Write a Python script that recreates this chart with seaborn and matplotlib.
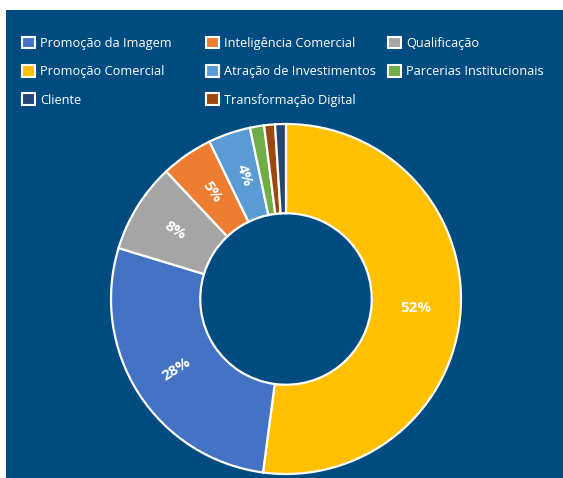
import numpy as np
import matplotlib
matplotlib.use("Agg")
import matplotlib.pyplot as plt
from matplotlib.patches import Patch, Rectangle
import seaborn as sns

# ==================== 数据 ====================
# order clockwise from the top of the donut
fatias = ["Promoção Comercial", "Promoção da Imagem", "Qualificação",
          "Inteligência Comercial", "Atração de Investimentos",
          "Parcerias Institucionais", "Transformação Digital", "Cliente"]
valores = [52.1, 27.6, 8.3, 4.8, 3.9, 1.3, 1.0, 1.0]
cores = ["#FFC000", "#4472C4", "#A5A5A5", "#ED7D31", "#5B9BD5",
         "#70AD47", "#9E480E", "#264478"]
rotulos = ["52%", "28%", "8%", "5%", "4%", "", "", ""]

# legend columns (Excel-style grid, read row by row)
coluna_1 = ["Promoção da Imagem", "Promoção Comercial", "Cliente"]
coluna_2 = ["Inteligência Comercial", "Atração de Investimentos", "Transformação Digital"]
coluna_3 = ["Qualificação", "Parcerias Institucionais"]

# ==================== 样式 ====================
sns.set_style("white")
plt.rcParams['font.family'] = ['Open Sans', 'DejaVu Sans']
fundo = "#004C80"

W, H = 563, 478
fig = plt.figure(figsize=(W / 100, H / 100), dpi=100, facecolor="white")
fig.patches.append(Rectangle((6 / W, 0), 1 - 6 / W, 1 - 10 / H,
                             transform=fig.transFigure, facecolor=fundo,
                             edgecolor="none", zorder=-10))

# ==================== 甜甜圈 ====================
cx, cy, r = 286, 299, 175
half = 1.03 * r
ax = fig.add_axes([(cx - half) / W, (H - cy - half) / H, 2 * half / W, 2 * half / H])
ax.set_facecolor("none")
wedges, _ = ax.pie(valores, colors=cores, startangle=90, counterclock=False,
                   radius=1.0, wedgeprops=dict(width=0.51, edgecolor="white", linewidth=1.6))
ax.set_xlim(-1.03, 1.03)
ax.set_ylim(-1.03, 1.03)
ax.set_aspect("equal")
ax.axis("off")

for w, txt in zip(wedges, rotulos):
    if not txt:
        continue
    ang = (w.theta1 + w.theta2) / 2
    rr = 0.745
    x, y = rr * np.cos(np.deg2rad(ang)), rr * np.sin(np.deg2rad(ang))
    rot = ang
    if rot > 90:
        rot -= 180
    if rot < -90:
        rot += 180
    if abs(rot) < 6:
        rot = 0
    ax.text(x, y, txt, ha="center", va="center", rotation=rot,
            rotation_mode="anchor", color="white", fontsize=11, fontweight="bold")

# ==================== 图例 ====================
mapa = dict(zip(fatias, cores))
for nomes, x0 in [(coluna_1, 10), (coluna_2, 194), (coluna_3, 376)]:
    handles = [Patch(facecolor=mapa[n], edgecolor="white", linewidth=1.5) for n in nomes]
    leg = fig.legend(handles, nomes, loc="upper left",
                     bbox_to_anchor=(x0 / W, 1 - 25 / H), frameon=False,
                     fontsize=9.2, labelcolor="white", handlelength=1.05, handleheight=1.05,
                     handletextpad=0.4, labelspacing=1.18)

fig.savefig("out.png", dpi=100, facecolor="white")
